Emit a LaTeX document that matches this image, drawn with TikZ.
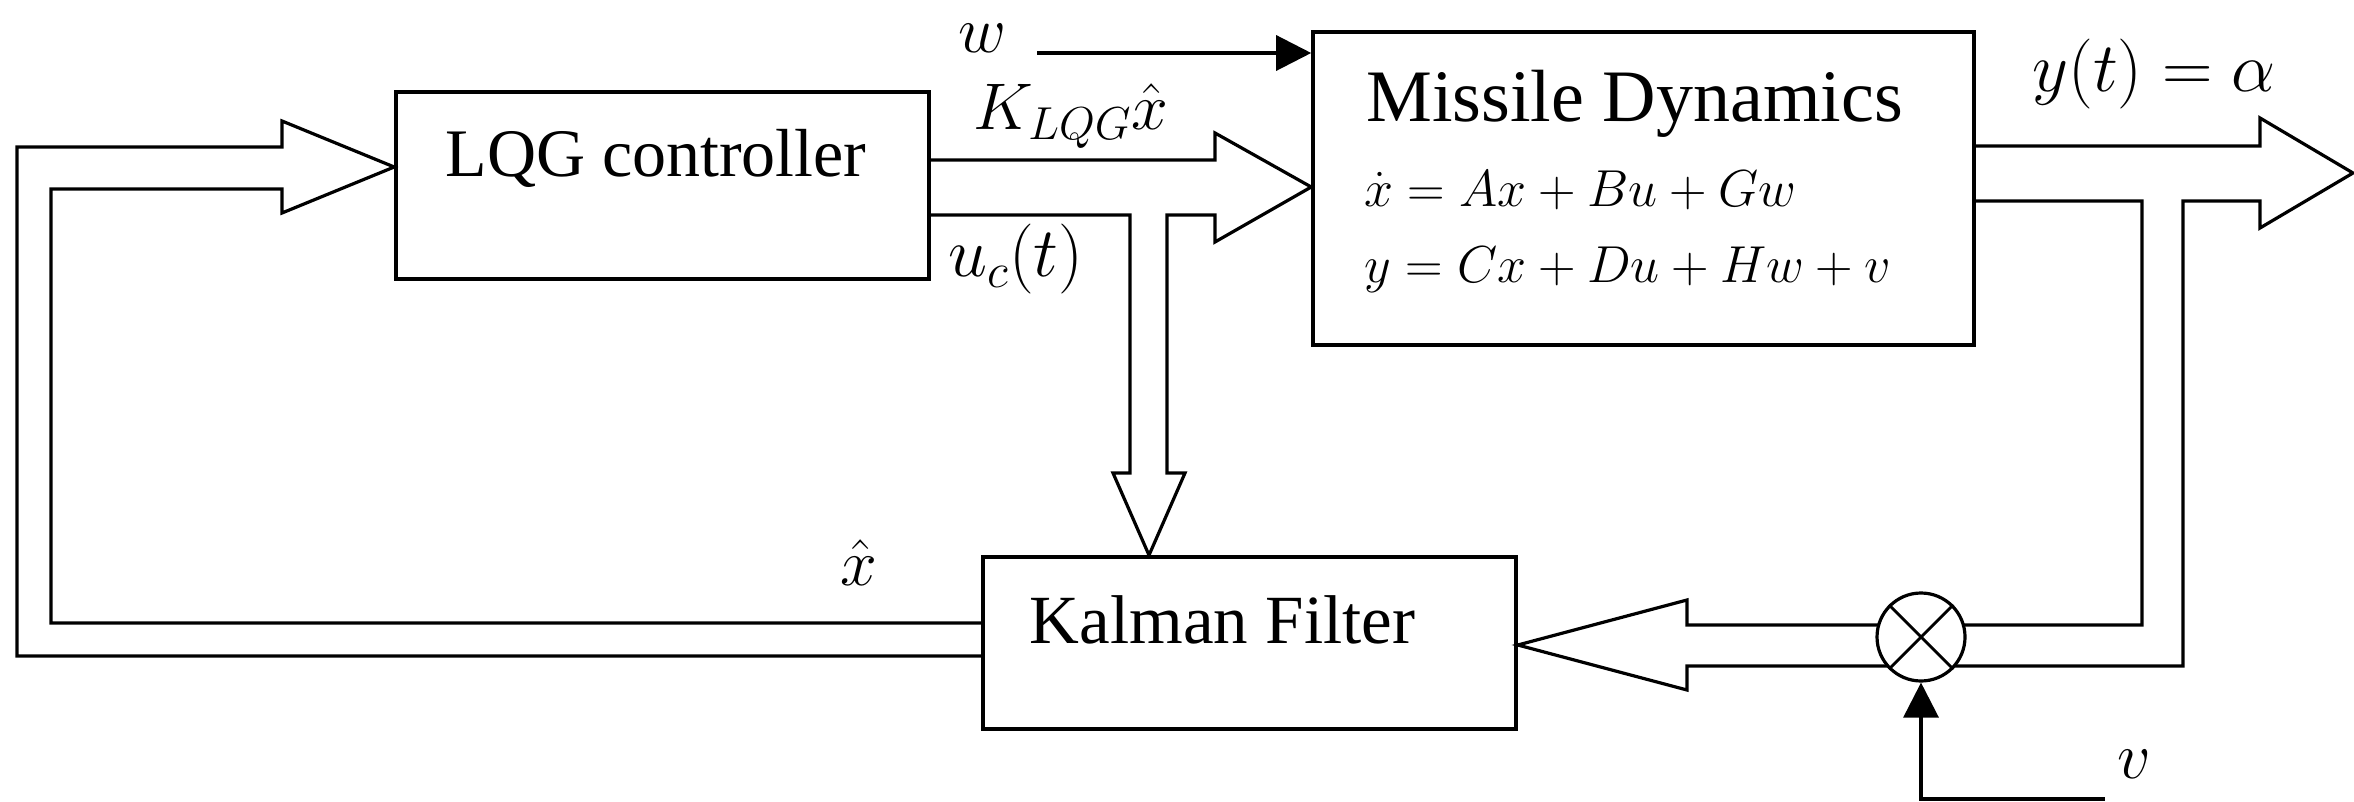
\RequirePackage{fix-cm}
\documentclass[tikz,border=0pt]{standalone}
\usepackage{fontspec}
\setmainfont{Liberation Serif}
\usetikzlibrary{arrows.meta,calc}

\tikzset{
  block/.style={draw, line width=1.8pt, fill=white, inner sep=0pt},
  pipe/.style={draw, line width=1.6pt, line join=miter},
  lbl/.style={inner sep=0pt, anchor=base west},
  ttl/.style={inner sep=0pt, anchor=base},
  signal/.style={line width=1.6pt, -{Triangle[length=17.5pt,width=17.5pt]}},
  bigtext/.style={font=\fontsize{37}{44}\selectfont},
  kftext/.style={font=\fontsize{34.5}{41}\selectfont},
  midtext/.style={font=\fontsize{34}{40}\selectfont},
  mathlbl/.style={font=\fontsize{33}{40}\selectfont},
  widemath/.style={font=\fontsize{35}{42}\selectfont},
  eqtext/.style={font=\fontsize{26}{32}\selectfont},
}

\begin{document}
\begin{tikzpicture}[x=0.5pt,y=-0.5pt]
\useasboundingbox (0,0) rectangle (2354,802);

% blocks
\node[block, minimum width=266.5pt, minimum height=93.5pt] (lqg) at (662.5,185.5) {};
\node[block, minimum width=330.5pt, minimum height=156.5pt] (md) at (1643.5,188.5) {};
\node[block, minimum width=266.5pt, minimum height=86pt] (kf) at (1249.5,643) {};
\coordinate (sumc) at (1921,637);

% state estimate fed back from the Kalman filter to the controller
\draw[pipe] (kf.west |- 0,656) -- (17,656) -- (17,147) -- (282,147) -- (282,121)
  -- (lqg.west |- 0,167) -- (282,213) -- (282,189) -- (51,189) -- (51,623)
  -- (kf.west |- 0,623);

% control input to the plant, branched down to the filter
\draw[pipe] (lqg.east |- 0,160) -- (1215,160) -- (1215,133) -- (md.west |- 0,187)
  -- (1215,242) -- (1215,215) -- (1167,215) -- (1167,473) -- (1185,473)
  -- (1149,0 |- kf.north) -- (1113,473) -- (1130,473) -- (1130,215)
  -- (lqg.east |- 0,215);

% plant output, branched back through the measurement junction
\coordinate (yout) at (2353,173);
\draw[pipe] (md.east |- 0,201) -- (2142,201) -- (2142,625) -- (1687,625) -- (1687,600)
  -- (kf.east |- 0,645) -- (1687,690) -- (1687,666) -- (2183,666) -- (2183,201)
  -- (2260,201) -- (2260,228) -- (yout) -- (2260,118) -- (2260,146)
  -- (md.east |- 0,146);

% measurement noise junction
\node[draw, circle, line width=1.6pt, minimum size=44pt, inner sep=0pt, fill=white] (sum) at (sumc) {};
\draw[line width=1.4pt] (sum.north west) -- (sum.south east)
  (sum.north east) -- (sum.south west);

% disturbance and noise inputs
\coordinate (win) at (1037,53);
\draw[signal] (win) -- (md.west |- win);
\coordinate (vin) at (2105,799);
\draw[signal] (vin) -| (sum.south);

% block texts
\node[ttl, midtext] (tlqg) at (656,177) {LQG controller};
\node[ttl, bigtext] (tmd) at (1634.5,122) {Missile Dynamics};
\node[lbl, eqtext] (eqa) at (1364,207) {$\dot{x} = Ax + Bu + Gw$};
\node[lbl, eqtext] (eqb) at (1364,282) {$y = Cx + Du + Hw + v$};
\node[ttl, kftext] (tkf) at (1222.5,643) {Kalman Filter};

% signal labels
\node[lbl, mathlbl] (lw) at (958,53) {$w$};
\node[lbl, mathlbl] (lk) at (973,130) {$K_{LQG}\hat{x}$};
\node[lbl, widemath] (lu) at (948,277) {$u_c(t)$};
\node[lbl, mathlbl] (lx) at (840,585) {$\hat{x}$};
\node[lbl, widemath] (ly) at (2032,92) {$y(t) = \alpha$};
\node[lbl, mathlbl] (lv) at (2117,778) {$v$};
\end{tikzpicture}
\end{document}
